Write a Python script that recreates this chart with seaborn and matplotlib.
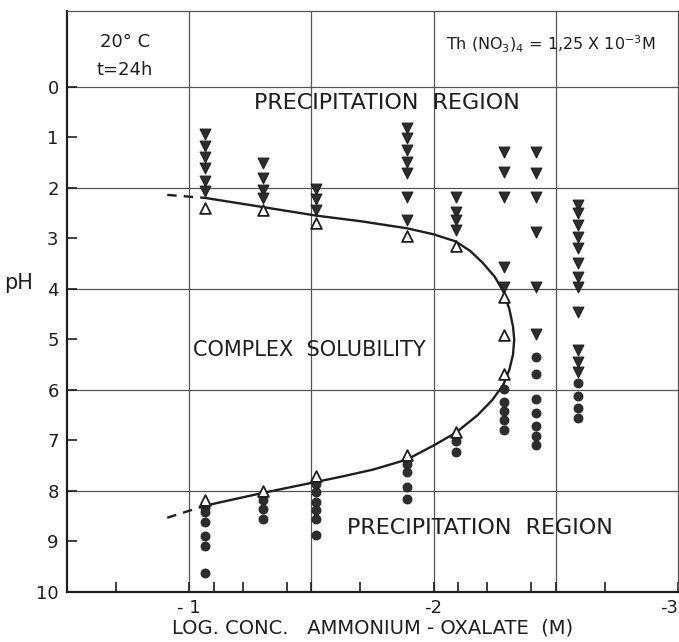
import numpy as np
import pandas as pd
import matplotlib
matplotlib.use("Agg")
import matplotlib.pyplot as plt
import seaborn as sns

# log conc. of ammonium oxalate for each measured series
col_x = [-1.066, -1.30, -1.52, -1.89, -2.09, -2.29, -2.42, -2.59]

# pH where precipitate found (acid side, filled down triangles)
tri_ph = [
    [0.93, 1.17, 1.38, 1.61, 1.86, 2.06],
    [1.51, 1.80, 2.04, 2.20],
    [2.02, 2.22, 2.44],
    [0.81, 1.01, 1.25, 1.48, 1.70, 2.18, 2.63],
    [2.18, 2.47, 2.63, 2.83],
    [1.30, 1.68, 2.18, 3.56, 3.96],
    [1.30, 1.70, 2.18, 2.87, 3.96, 4.89],
    [2.34, 2.50, 2.73, 2.97, 3.19, 3.49, 3.76, 3.96, 4.46, 5.21, 5.44, 5.64],
]
# pH of clear complex solution limits (open up triangles)
open_ph = [
    [2.39, 8.18],
    [2.44, 8.00],
    [2.69, 7.70],
    [2.95, 7.29],
    [3.15, 6.83],
    [4.16, 4.91, 5.68],
    [],
    [],
]
# pH where precipitate found (basic side, filled circles)
dot_ph = [
    [8.34, 8.42, 8.61, 8.89, 9.09, 9.63],
    [8.18, 8.36, 8.56],
    [7.86, 8.03, 8.21, 8.38, 8.56, 8.87],
    [7.47, 7.63, 7.92, 8.16],
    [7.01, 7.23],
    [5.98, 6.24, 6.42, 6.60, 6.79],
    [5.35, 5.68, 6.18, 6.46, 6.71, 6.91, 7.09],
    [5.86, 6.12, 6.36, 6.55],
]

# solubility boundary
curve_x = [-1.066, -1.30, -1.52, -1.70, -1.89, -2.00, -2.09, -2.15, -2.20, -2.25,
           -2.285, -2.31, -2.325, -2.33, -2.325, -2.31, -2.285, -2.24, -2.18,
           -2.09, -2.00, -1.89, -1.75, -1.62, -1.51, -1.30, -1.066]
curve_ph = [2.20, 2.38, 2.55, 2.66, 2.80, 2.92, 3.06, 3.25, 3.48, 3.76,
            4.05, 4.40, 4.75, 5.00, 5.30, 5.60, 5.90, 6.20, 6.50,
            6.85, 7.10, 7.38, 7.58, 7.72, 7.83, 8.04, 8.29]
dash_top_x = [-0.91, -1.066]
dash_top_ph = [2.14, 2.20]
dash_bot_x = [-0.91, -1.066]
dash_bot_ph = [8.53, 8.29]

xtick_vals = [-1, -2, -3]
xtick_labels = ["- 1", "-2", "-3"]
minor_x = [-0.70, -1.10, -1.22, -1.40, -1.50, -1.70, -2.10, -2.22, -2.40, -2.50, -2.70]
grid_x = [-1.0, -1.5, -2.0, -2.5]
grid_ph = [0, 2, 4, 6, 8]

rows = []
for x, tri, opn, dot in zip(col_x, tri_ph, open_ph, dot_ph):
    rows += [(x, p, "tri") for p in tri]
    rows += [(x, p, "open") for p in opn]
    rows += [(x, p, "dot") for p in dot]
df = pd.DataFrame(rows, columns=["logc", "pH", "kind"])

sns.set_theme(style="ticks")
plt.rcParams["font.family"] = ["DejaVu Sans"]
ink = "#1e1e1e"

fig = plt.figure(figsize=(6.79, 6.42), dpi=100)
ax = fig.add_axes([67 / 679, 50 / 642, 611 / 679, 581 / 642])

for gx in grid_x:
    ax.axvline(gx, color="#555555", lw=0.9, zorder=0)
for gy in grid_ph:
    ax.axhline(gy, color="#555555", lw=0.9, zorder=0)

ax.plot(curve_x, curve_ph, color=ink, lw=1.7, zorder=2)
ax.plot(dash_top_x, dash_top_ph, color=ink, lw=1.7, ls=(0, (4, 3)), zorder=2)
ax.plot(dash_bot_x, dash_bot_ph, color=ink, lw=1.7, ls=(0, (4, 3)), zorder=2)

sns.scatterplot(data=df[df.kind == "tri"], x="logc", y="pH", marker="v", s=60,
                color="#2e2e2e", edgecolor=ink, linewidth=0.8, ax=ax, zorder=3)
sns.scatterplot(data=df[df.kind == "dot"], x="logc", y="pH", marker="o", s=42,
                color="#2e2e2e", edgecolor=ink, linewidth=0.6, ax=ax, zorder=3)
sns.scatterplot(data=df[df.kind == "open"], x="logc", y="pH", marker="^", s=60,
                facecolor="white", edgecolor=ink, linewidth=1.3, ax=ax, zorder=4)

ax.set_xlim(-0.5, -3.0)
ax.set_ylim(10.0, -1.5)
ax.set_xticks(xtick_vals)
ax.set_xticklabels(xtick_labels)
ax.get_xticklabels()[-1].set_horizontalalignment("right")
ax.set_xticks(minor_x, minor=True)
ax.set_yticks(range(0, 11))
ax.tick_params(axis="both", which="both", direction="in", color=ink,
               labelcolor=ink, labelsize=13, width=1.2)
ax.tick_params(axis="x", which="major", length=7, pad=5)
ax.tick_params(axis="x", which="minor", length=7)
ax.tick_params(axis="y", which="major", length=7, pad=6)
ax.tick_params(top=False, right=False)
for s in ["left", "bottom"]:
    ax.spines[s].set_linewidth(1.6)
    ax.spines[s].set_color(ink)
for s in ["top", "right"]:
    ax.spines[s].set_linewidth(0.9)
    ax.spines[s].set_color("#555555")

ax.set_xlabel("LOG. CONC.   AMMONIUM - OXALATE  (M)", fontsize=14, color=ink, labelpad=1)
ax.set_ylabel("pH", fontsize=15, color=ink, rotation=0, va="center", ha="center")
ax.yaxis.set_label_coords(-0.08, 0.532)

txt = dict(color=ink, ha="center", va="center")
ax.text(-0.737, -0.89, "20° C", fontsize=13, **txt)
ax.text(-0.737, -0.34, "t=24h", fontsize=13, **txt)
ax.text(-2.48, -0.83, r"Th (NO$_3$)$_4$ = 1,25 X 10$^{-3}$M", fontsize=11.5, **txt)
ax.text(-1.81, 0.32, "PRECIPITATION  REGION", fontsize=16, **txt)
ax.text(-1.49, 5.21, "COMPLEX  SOLUBILITY", fontsize=15, **txt)
ax.text(-2.19, 8.73, "PRECIPITATION  REGION", fontsize=16, **txt)

fig.savefig("out.png", dpi=100, facecolor="white")
